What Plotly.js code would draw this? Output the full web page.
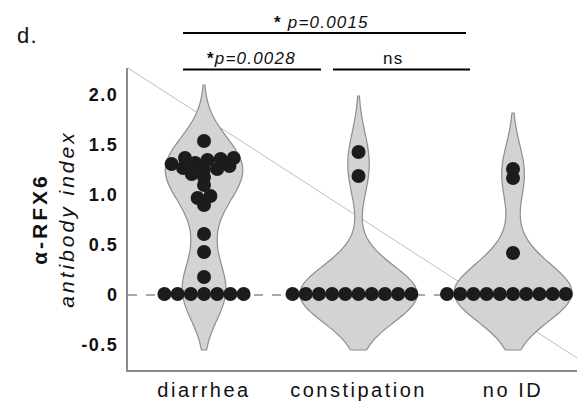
<!DOCTYPE html>
<html><head><meta charset="utf-8">
<script src="https://cdn.plot.ly/plotly-3.0.1.min.js"></script>
<style>
body{margin:0;background:#fff}
#chart{width:577px;height:404px}
.xtick text{letter-spacing:2.5px}
.ytick text{letter-spacing:1.5px}
.ytitle{letter-spacing:3px}
.annotation-text{letter-spacing:1.2px}
</style></head><body><div id="chart"></div>
<script>
// ---- data ----
const categories = ['diarrhea', 'constipation', 'no ID'];
const diarrhea = [1.54, 1.37, 1.37, 1.36, 1.35, 1.32, 1.31, 1.29, 1.27, 1.26, 1.26, 1.21, 1.18, 1.10,
                  0.99, 0.97, 0.90, 0.61, 0.43, 0.18, 0.01, 0.01, 0.01, 0.01, 0.01, 0.01, 0.01];
const constipation = [1.43, 1.19, 0.01, 0.01, 0.01, 0.01, 0.01, 0.01, 0.01, 0.01, 0.01, 0.01];
const noID = [1.26, 1.17, 0.42, 0.01, 0.01, 0.01, 0.01, 0.01, 0.01, 0.01, 0.01, 0.01, 0.01];
const yTickVals = [-0.5, 0, 0.5, 1, 1.5, 2];
const yTickText = ['-0.5', '0', '0.5', '1.0', '1.5', '2.0'];
const sigLabels = ['<b>*</b> <i>p=0.0015</i>', '<b>*</b><i>p=0.0028</i>', 'ns'];

// ---- geometry ----
const W = 577, H = 404;
const M = {l: 128, r: 0, t: 68, b: 34};
const PW = W - M.l - M.r, PH = H - M.t - M.b;
const xRange = [-0.492, 2.414];
const yRange = [-0.75, 2.27];
const pxPerX = PW / (xRange[1] - xRange[0]);
const pxPerY = PH / (yRange[1] - yRange[0]);
const fx = px => (px - M.l) / PW;
const fy = py => (H - M.b - py) / PH;

// simple beeswarm (pixel space, vertically squashed metric) to lay dots side by side
function swarm(vals, d, k) {
  const order = vals.map((v, i) => i).sort((a, b) => vals[a] - vals[b]);
  const placed = [], off = new Array(vals.length).fill(0);
  for (const i of order) {
    const y = vals[i] * pxPerY * k;
    const cands = [0];
    for (const p of placed) {
      const dy = Math.abs(p.y - y);
      if (dy < d) { const dx = Math.sqrt(d * d - dy * dy); cands.push(p.x - dx, p.x + dx); }
    }
    cands.sort((a, b) => Math.abs(a) - Math.abs(b) || a - b);
    for (const c of cands) {
      if (placed.every(p => (p.x - c) ** 2 + (p.y - y) ** 2 >= d * d - 1e-6)) {
        off[i] = c; placed.push({x: c, y}); break;
      }
    }
  }
  return off.map(o => o / pxPerX);
}

const groups = [diarrhea, constipation, noID];
const widths = [0.50, 0.76, 0.76];
const traces = [];
groups.forEach((vals, k) => {
  traces.push({
    type: 'violin', x0: k, y: vals, width: widths[k], bandwidth: 0.28,
    spanmode: 'soft', points: false, box: {visible: false}, meanline: {visible: false},
    fillcolor: '#d3d3d3', line: {color: '#8e8e8e', width: 1.2},
    hoverinfo: 'skip', showlegend: false, name: categories[k]
  });
});
groups.forEach((vals, k) => {
  const off = swarm(vals, 13.2, 1.65);
  traces.push({
    type: 'scatter', mode: 'markers',
    x: vals.map((v, i) => k + off[i]), y: vals,
    marker: {color: '#1c1c1c', size: 14, line: {width: 0}},
    hoverinfo: 'y', showlegend: false, name: categories[k]
  });
});

const fontN = "'Liberation Sans', Arial, sans-serif";
const layout = {
  width: W, height: H, margin: M,
  paper_bgcolor: '#fff', plot_bgcolor: '#fff',
  violinmode: 'overlay', showlegend: false,
  xaxis: {
    type: 'linear', range: xRange, tickvals: [0, 1, 2], ticktext: categories,
    showgrid: false, zeroline: false, showline: true, linecolor: '#8a8a8a', linewidth: 2,
    ticks: '', ticklabelstandoff: 1, tickfont: {family: fontN, size: 20, color: '#111'}, fixedrange: true
  },
  yaxis: {
    range: yRange, tickvals: yTickVals, ticktext: yTickText,
    showgrid: false, zeroline: false, showline: true, linecolor: '#8a8a8a', linewidth: 2,
    ticks: '', ticklabelstandoff: 4, tickfont: {family: fontN, size: 18, color: '#111', weight: 'bold'},
    title: {text: '<b>α-RFX6</b><br><i>antibody index</i>', font: {family: fontN, size: 21, color: '#111'}, standoff: 1},
    fixedrange: true
  },
  shapes: [
    {type: 'line', xref: 'paper', yref: 'paper', x0: 0, x1: 1, y0: 1, y1: fy(358), line: {color: '#bdbdbd', width: 1}, layer: 'below'},
    {type: 'line', xref: 'paper', yref: 'y', x0: 0, x1: 1, y0: 0, y1: 0, line: {color: '#555', width: 1.2, dash: 'dash'}, layer: 'below'},
    {type: 'line', xref: 'paper', yref: 'paper', x0: fx(183), x1: fx(466), y0: fy(33), y1: fy(33), line: {color: '#000', width: 2}},
    {type: 'line', xref: 'paper', yref: 'paper', x0: fx(183), x1: fx(321), y0: fy(69.5), y1: fy(69.5), line: {color: '#000', width: 2}},
    {type: 'line', xref: 'paper', yref: 'paper', x0: fx(333), x1: fx(470), y0: fy(69.5), y1: fy(69.5), line: {color: '#000', width: 2}}
  ],
  annotations: [
    {text: 'd.', xref: 'paper', yref: 'paper', x: fx(15), y: fy(35), xanchor: 'left', yanchor: 'middle', showarrow: false, font: {family: fontN, size: 22, color: '#111'}},
    {text: sigLabels[0], xref: 'paper', yref: 'paper', x: fx(321), y: fy(22), xanchor: 'center', yanchor: 'middle', showarrow: false, font: {family: fontN, size: 17, color: '#111'}},
    {text: sigLabels[1], xref: 'paper', yref: 'paper', x: fx(251), y: fy(59), xanchor: 'center', yanchor: 'middle', showarrow: false, font: {family: fontN, size: 17, color: '#111'}},
    {text: sigLabels[2], xref: 'paper', yref: 'paper', x: fx(393), y: fy(59), xanchor: 'center', yanchor: 'middle', showarrow: false, font: {family: fontN, size: 17, color: '#111'}}
  ]
};
Plotly.newPlot('chart', traces, layout, {displayModeBar: false, responsive: false});
</script></body></html>
